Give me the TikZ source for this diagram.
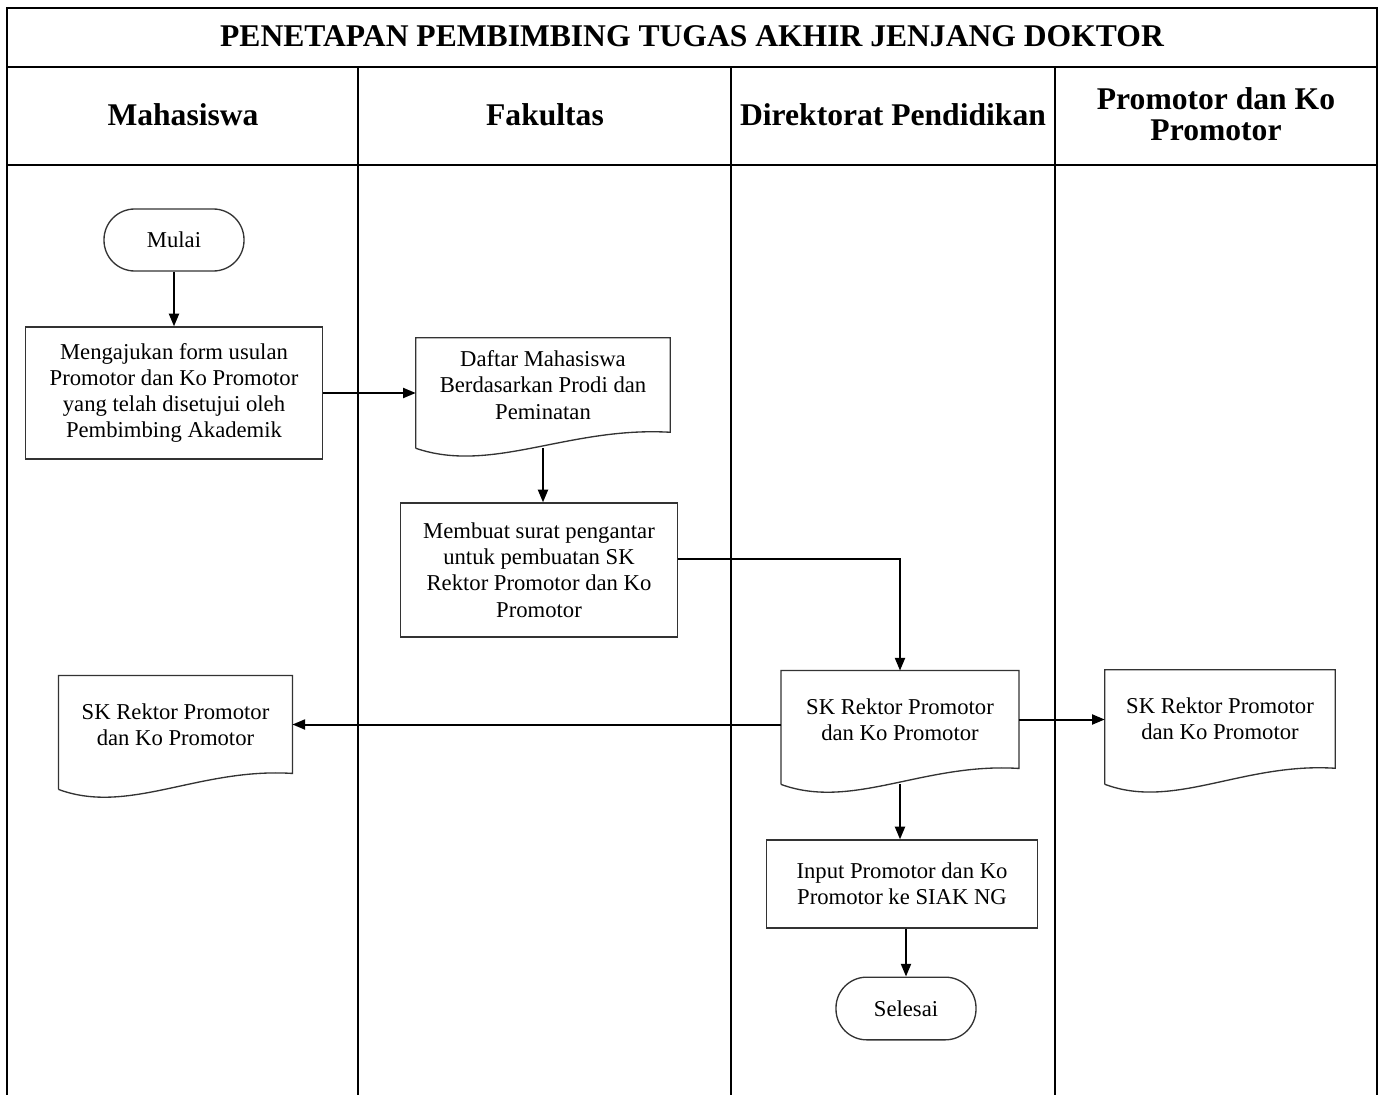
\documentclass[tikz,border=0pt]{standalone}
\usepackage{fontspec}
\setmainfont{Liberation Serif}
\usepackage{tikz}
\usetikzlibrary{arrows.meta,calc}
\usetikzlibrary{positioning}

\newcommand{\isifont}{\fontsize{17}{19.7}\selectfont}
\tikzset{
	lajur/.style={line width=2.2pt},
	kepala/.style={font=\fontsize{23.7}{23}\selectfont\bfseries, align=center},
	proses/.style={draw=black!80, line width=1pt, align=center, font=\isifont, inner sep=2pt},
	terminal/.style={proses, rounded corners=23pt},
	dokumen/.style={align=center, font=\isifont, inner sep=2pt},
	garis/.style={draw=black!80, line width=1pt},
	panah/.style={line width=1.5pt, -{Triangle[length=9.5pt,width=7.5pt]}},
}
% outline of a document symbol round node #1
\newcommand{\dokumengaris}[1]{%
	\draw[garis] ($(#1.south west)+(0,16)$) -- (#1.north west) -- (#1.north east) -- (#1.south east)
		.. controls ($(#1.south west)!0.6!(#1.south east)+(0,-6)$) and ($(#1.south west)!0.3!(#1.south east)+(0,42)$) .. ($(#1.south west)+(0,16)$);}

\begin{document}
\begin{tikzpicture}[x=0.75pt,y=-0.75pt]
	\useasboundingbox (0,0) rectangle (1385,1095);
	% table
	\draw[lajur] (7,1100) -- (7,8) -- (1377,8) -- (1377,1100);
	\draw[lajur] (7,67) -- (1377,67);
	\draw[lajur] (7,165) -- (1377,165);
	\foreach \x in {358,731,1055}
		\draw[lajur] (\x,67) -- (\x,1100);
	\node[kepala] (judul) at (692,36) {PENETAPAN PEMBIMBING TUGAS AKHIR JENJANG DOKTOR};
	\node[kepala] (mhs) at (183,115) {Mahasiswa};
	\node[kepala] (fak) at (545,115) {Fakultas};
	\node[kepala] (dir) at (893,115) {Direktorat Pendidikan};
	\node[kepala] (pro) at (1216,114) {Promotor dan Ko\\Promotor};

	% steps
	\node[terminal, minimum width=105pt, minimum height=46.5pt] (mulai) at (174,240) {Mulai};
	\node[proses, minimum width=223pt, minimum height=99pt] (mengajukan) at (174,393)
		{Mengajukan form usulan\\Promotor dan Ko Promotor\\yang telah disetujui oleh\\Pembimbing Akademik};
	\node[dokumen, minimum width=190.5pt, minimum height=70.5pt] (daftar) at (543,385)
		{Daftar Mahasiswa\\Berdasarkan Prodi dan\\Peminatan};
	\dokumengaris{daftar}
	\node[proses, minimum width=208pt, minimum height=100.5pt] (membuat) at (539,570)
		{Membuat surat pengantar\\untuk pembuatan SK\\Rektor Promotor dan Ko\\Promotor};
	\node[dokumen, minimum width=178pt, minimum height=73pt] (skdir) at (900,719.5)
		{SK Rektor Promotor\\dan Ko Promotor};
	\dokumengaris{skdir}
	\node[dokumen, minimum width=175pt, minimum height=73pt] (skmhs) at (175.5,724.5)
		{SK Rektor Promotor\\dan Ko Promotor};
	\dokumengaris{skmhs}
	\node[dokumen, minimum width=172.5pt, minimum height=73.5pt] (skpro) at (1220,719)
		{SK Rektor Promotor\\dan Ko Promotor};
	\dokumengaris{skpro}
	\node[proses, minimum width=203pt, minimum height=66pt] (input) at (902,884)
		{Input Promotor dan Ko\\Promotor ke SIAK NG};
	\node[terminal, minimum width=105pt, minimum height=47pt] (selesai) at (906,1008.5) {Selesai};

	% arrows
	\draw[panah] (mulai) -- (mengajukan);
	\draw[panah] (mengajukan.east) -- (daftar.west |- mengajukan.east);
	\draw[panah] ([yshift=-12pt]daftar.south) -- (membuat.north -| daftar.south);
	\draw[panah] ([yshift=8.25pt]membuat.east) -| (skdir.north);
	\draw[panah] (skdir.west |- skmhs.east) -- (skmhs.east);
	\draw[panah] (skdir.east) -- (skpro.west |- skdir.east);
	\draw[panah] ([yshift=-12pt]skdir.south) -- (skdir.south |- input.north);
	\draw[panah] (input.south -| selesai.north) -- (selesai.north);
\end{tikzpicture}
\end{document}
